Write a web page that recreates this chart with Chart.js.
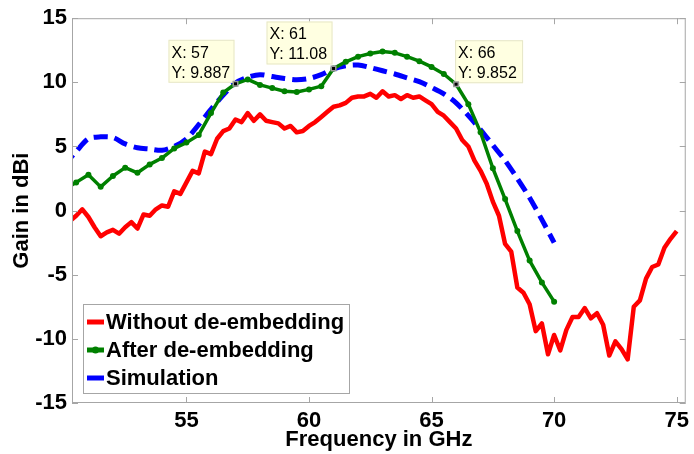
<!DOCTYPE html>
<html>
<head>
<meta charset="utf-8">
<script src="https://cdn.jsdelivr.net/npm/chart.js@4.4.0/dist/chart.umd.min.js"></script>
<style>
  html, body { margin: 0; padding: 0; background: #fff; }
</style>
</head>
<body>
<canvas id="plot" width="694" height="454"></canvas>
<script>
// measured data, Without de-embedding (0.25 GHz steps)
let freqRaw = [50.25, 50.5, 50.75, 51, 51.25, 51.5, 51.75, 52, 52.25, 52.5, 52.75, 53, 53.25, 53.5, 53.75, 54, 54.25, 54.5, 54.75, 55,
  55.25, 55.5, 55.75, 56, 56.25, 56.5, 56.75, 57, 57.25, 57.5, 57.75, 58, 58.25, 58.5, 58.75, 59, 59.25, 59.5, 59.75, 60,
  60.25, 60.5, 60.75, 61, 61.25, 61.5, 61.75, 62, 62.25, 62.5, 62.75, 63, 63.25, 63.5, 63.75, 64, 64.25, 64.5, 64.75, 65,
  65.25, 65.5, 65.75, 66, 66.25, 66.5, 66.75, 67, 67.25, 67.5, 67.75, 68, 68.25, 68.5, 68.75, 69, 69.25, 69.5, 69.75, 70,
  70.25, 70.5, 70.75, 71, 71.25, 71.5, 71.75, 72, 72.25, 72.5, 72.75, 73, 73.25, 73.5, 73.75, 74, 74.25, 74.5, 74.75, 75]
let gainRaw = [-0.8, -0.4, 0.1, -0.5, -1.3, -2.0, -1.7, -1.5, -1.8, -1.3, -0.9, -1.4, -0.3, -0.4, 0.1, 0.4, 0.3, 1.5, 1.3, 2.2,
  3.1, 2.9, 4.6, 4.4, 5.6, 6.2, 6.4, 7.1, 6.9, 7.6, 7.0, 7.5, 7.0, 6.9, 6.8, 6.4, 6.6, 6.1, 6.2, 6.6,
  6.9, 7.3, 7.7, 8.1, 8.2, 8.4, 8.8, 8.9, 8.9, 9.1, 8.8, 9.3, 8.9, 9.0, 8.7, 9.0, 8.8, 8.9, 8.6, 8.3,
  7.7, 7.4, 6.9, 6.4, 5.5, 5.0, 3.9, 3.1, 2.1, 0.7, -0.4, -2.6, -3.2, -6.0, -6.4, -7.3, -9.4, -8.8, -11.2, -9.7,
  -10.9, -9.3, -8.3, -8.3, -7.6, -8.4, -8.0, -8.9, -11.3, -10.2, -10.8, -11.6, -7.5, -7.0, -5.3, -4.4, -4.2, -2.9, -2.2, -1.6]

// After de-embedding and Simulation (0.5 GHz steps)
let freqHalf = [50, 50.5, 51, 51.5, 52, 52.5, 53, 53.5, 54, 54.5, 55, 55.5, 56, 56.5, 57, 57.5, 58, 58.5, 59, 59.5,
  60, 60.5, 61, 61.5, 62, 62.5, 63, 63.5, 64, 64.5, 65, 65.5, 66, 66.5, 67, 67.5, 68, 68.5, 69, 69.5, 70]
let gainDeemb = [1.6, 2.2, 2.8, 1.85, 2.7, 3.35, 2.95, 3.6, 4.1, 4.85, 5.3, 5.9, 7.6, 9.2, 9.887, 10.23, 9.8, 9.55, 9.3, 9.25,
  9.45, 9.7, 11.08, 11.6, 12.0, 12.25, 12.4, 12.3, 12.0, 11.65, 11.2, 10.65, 9.852, 8.3, 6.1, 3.3, 0.9, -1.6, -3.9, -5.6, -7.1]
let gainSim = [3.5, 4.6, 5.6, 5.75, 5.7, 5.2, 4.9, 4.8, 4.7, 5.0, 5.6, 6.7, 7.9, 9.0, 9.95, 10.4, 10.6, 10.45, 10.3, 10.2,
  10.3, 10.6, 11.05, 11.3, 11.35, 11.15, 10.9, 10.65, 10.35, 10.05, 9.6, 9.1, 8.4, 7.4, 6.3, 5.1, 3.9, 2.5, 1.0, -0.7, -2.5]

let xTicks = [55, 60, 65, 70, 75]
let yTicks = [-15, -10, -5, 0, 5, 10, 15]

// data tips on the de-embedded curve
let tipFreq = [57, 61, 66]
let tipGain = [9.887, 11.08, 9.852]
let tipSide = ['left', 'left', 'right']

let seriesNames = ['Without de-embedding', 'After de-embedding', 'Simulation']

let toXY = (xs, ys) => xs.map((x, i) => ({ x: x, y: ys[i] }))

const boldFont = { family: 'Liberation Sans, Arial, sans-serif', size: 22, weight: 'bold' }

// ticks inside, box, data tips and legend, drawn like matlab
let matlabPlugin = {
  id: 'matlab',
  afterDatasetsDraw(chart) {
    let ctx = chart.ctx
    let a = chart.chartArea
    let xs = chart.scales.x
    let ys = chart.scales.y
    ctx.save()
    ctx.strokeStyle = '#a6a6a6'
    ctx.lineWidth = 1
    ctx.strokeRect(a.left + 0.5, a.top + 0.5, a.right - a.left - 1, a.bottom - a.top - 1)
    ctx.beginPath()
    xTicks.forEach(v => {
      let px = Math.round(xs.getPixelForValue(v)) + 0.5
      ctx.moveTo(px, a.bottom); ctx.lineTo(px, a.bottom - 6)
      ctx.moveTo(px, a.top); ctx.lineTo(px, a.top + 6)
    })
    yTicks.forEach(v => {
      let py = Math.round(ys.getPixelForValue(v)) + 0.5
      ctx.moveTo(a.left, py); ctx.lineTo(a.left + 6, py)
      ctx.moveTo(a.right, py); ctx.lineTo(a.right - 6, py)
    })
    ctx.stroke()

    // data tips
    ctx.font = '16px "Liberation Sans", Arial, sans-serif'
    ctx.textBaseline = 'alphabetic'
    tipFreq.forEach((f, i) => {
      let px = xs.getPixelForValue(f)
      let py = ys.getPixelForValue(tipGain[i])
      let w = tipSide[i] === 'left' ? 66 : 68
      let h = 43
      let bx = tipSide[i] === 'left' ? px - w - 1 : px - 1
      let by = py - h - (i === 1 ? 4 : 1)
      ctx.fillStyle = '#ffffe1'
      ctx.fillRect(bx, by, w, h)
      ctx.strokeStyle = '#e6e6c8'
      ctx.strokeRect(bx + 0.5, by + 0.5, w - 1, h - 1)
      ctx.fillStyle = '#000'
      ctx.textAlign = 'left'
      ctx.fillText('X: ' + f, bx + 3, by + 18)
      ctx.fillText('Y: ' + tipGain[i], bx + 3, by + 38)
      ctx.fillStyle = '#9a9a9a'
      ctx.fillRect(px - 3, py - 3, 6, 6)
      ctx.fillStyle = '#000'
      ctx.fillRect(px - 1.5, py - 1.5, 3, 3)
    })

    // legend
    let lx = 83, ly = 304, lw = 266, lh = 89
    ctx.fillStyle = '#fff'
    ctx.fillRect(lx, ly, lw, lh)
    ctx.strokeStyle = '#a6a6a6'
    ctx.lineWidth = 1
    ctx.strokeRect(lx + 0.5, ly + 0.5, lw, lh)
    ctx.font = 'bold 22px "Liberation Sans", Arial, sans-serif'
    ctx.textBaseline = 'middle'
    chart.data.datasets.forEach((ds, i) => {
      let cy = ly + 18 + i * 28
      ctx.strokeStyle = ds.borderColor
      ctx.lineWidth = 5
      ctx.setLineDash([])
      ctx.beginPath()
      ctx.moveTo(lx + 4, cy); ctx.lineTo(lx + 21, cy)
      ctx.stroke()
      if (ds.pointRadius > 0) {
        ctx.fillStyle = ds.borderColor
        ctx.beginPath()
        ctx.arc(lx + 12.5, cy, 3.5, 0, Math.PI * 2)
        ctx.fill()
      }
      ctx.fillStyle = '#000'
      ctx.fillText(ds.label, lx + 23, cy + 1)
    })
    ctx.restore()
  }
}

let config = {
  type: 'line',
  data: {
    datasets: [
      {
        label: seriesNames[0],
        data: toXY(freqRaw, gainRaw),
        borderColor: '#ff0000',
        borderWidth: 4.5,
        borderJoinStyle: 'round',
        pointRadius: 0,
        tension: 0,
      },
      {
        label: seriesNames[1],
        data: toXY(freqHalf, gainDeemb),
        borderColor: '#008000',
        backgroundColor: '#008000',
        borderWidth: 3.5,
        borderJoinStyle: 'round',
        pointRadius: 3,
        pointBorderWidth: 0,
        tension: 0,
      },
      {
        label: seriesNames[2],
        data: toXY(freqHalf, gainSim),
        borderColor: '#0000ff',
        borderWidth: 5,
        borderDash: [14, 7],
        borderCapStyle: 'butt',
        pointRadius: 0,
        tension: 0.3,
      },
    ]
  },
  options: {
    responsive: false,
    animation: false,
    devicePixelRatio: 1,
    layout: { padding: { top: 17, right: 6, left: 0, bottom: 0 } },
    plugins: { legend: { display: false }, tooltip: { enabled: false } },
    scales: {
      x: {
        type: 'linear',
        min: 50.33,
        max: 75.37,
        afterBuildTicks: scale => { scale.ticks = xTicks.map(v => ({ value: v })) },
        afterFit: scale => { scale.height = 51 },
        grid: { display: false, drawTicks: false },
        border: { display: false },
        ticks: { color: '#000', font: boldFont, padding: 5, maxRotation: 0 },
        title: { display: true, text: 'Frequency in GHz', color: '#000', font: boldFont, padding: { top: 0, bottom: 1 } },
      },
      y: {
        min: -15,
        max: 15,
        afterBuildTicks: scale => { scale.ticks = yTicks.map(v => ({ value: v })) },
        afterFit: scale => { scale.width = 72 },
        grid: { display: false, drawTicks: false },
        border: { display: false },
        ticks: { color: '#000', font: boldFont, padding: 5 },
        title: { display: true, text: 'Gain in dBi', color: '#000', font: boldFont, padding: { top: 9, bottom: 0 } },
      }
    }
  },
  plugins: [matlabPlugin]
}

let chart1 = new Chart(document.getElementById('plot'), config)
</script>
</body>
</html>
